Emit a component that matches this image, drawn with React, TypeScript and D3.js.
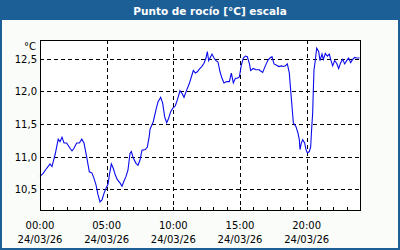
import React from "react";
import * as d3 from "d3";

const TITLE = "Punto de rocío [°C] escala";
const UNIT = "°C";
// minutes after 24/03/26 00:00
const minutes = [0, 15, 27, 36, 45, 54, 60, 69, 75, 82, 90, 99, 108, 120, 135, 144, 153, 165, 177, 188, 198, 210, 222, 234, 243, 252, 261, 270, 279, 288, 297, 306, 312, 321, 330, 339, 348, 360, 369, 378, 387, 396, 405, 411, 420, 432, 441, 450, 459, 474, 483, 492, 495, 510, 522, 531, 543, 552, 561, 570, 579, 588, 597, 609, 618, 630, 639, 648, 660, 672, 681, 690, 699, 708, 717, 728, 738, 747, 753, 759, 768, 774, 783, 792, 801, 810, 819, 828, 840, 852, 861, 870, 879, 888, 897, 906, 915, 924, 933, 942, 948, 960, 972, 987, 990, 1002, 1014, 1026, 1035, 1044, 1053, 1065, 1074, 1086, 1095, 1104, 1113, 1122, 1128, 1134, 1140, 1152, 1161, 1167, 1170, 1176, 1182, 1191, 1197, 1203, 1212, 1218, 1223, 1227, 1230, 1233, 1239, 1245, 1254, 1260, 1269, 1275, 1284, 1293, 1302, 1308, 1317, 1326, 1335, 1344, 1353, 1362, 1371, 1380, 1389, 1398, 1407, 1416, 1425, 1438];
const values = [10.70, 10.75, 10.81, 10.85, 10.89, 10.85, 10.93, 11.05, 11.15, 11.27, 11.23, 11.30, 11.21, 11.21, 11.13, 11.09, 11.13, 11.21, 11.21, 11.27, 11.21, 11.00, 10.77, 10.75, 10.67, 10.57, 10.42, 10.31, 10.34, 10.44, 10.52, 10.58, 10.72, 10.89, 10.82, 10.72, 10.65, 10.60, 10.55, 10.63, 10.70, 10.80, 11.05, 11.08, 10.98, 10.90, 10.87, 10.95, 11.10, 11.11, 11.15, 11.32, 11.42, 11.54, 11.72, 11.84, 11.91, 11.82, 11.61, 11.52, 11.59, 11.69, 11.74, 11.78, 11.87, 12.01, 11.97, 11.91, 12.02, 12.12, 12.22, 12.32, 12.28, 12.30, 12.34, 12.38, 12.43, 12.51, 12.61, 12.47, 12.53, 12.57, 12.51, 12.47, 12.45, 12.30, 12.20, 12.13, 12.15, 12.15, 12.28, 12.13, 12.20, 12.20, 12.22, 12.40, 12.51, 12.54, 12.53, 12.43, 12.32, 12.35, 12.33, 12.33, 12.32, 12.29, 12.39, 12.48, 12.51, 12.53, 12.42, 12.40, 12.38, 12.39, 12.38, 12.39, 12.42, 12.28, 12.02, 11.77, 11.52, 11.46, 11.36, 11.26, 11.11, 11.21, 11.26, 11.21, 11.11, 11.06, 11.08, 11.15, 11.46, 11.67, 12.02, 12.33, 12.48, 12.66, 12.61, 12.47, 12.57, 12.49, 12.58, 12.54, 12.57, 12.49, 12.39, 12.47, 12.43, 12.35, 12.44, 12.49, 12.42, 12.47, 12.51, 12.44, 12.49, 12.52, 12.51, 12.51];
const yTicks = [10.5, 11.0, 11.5, 12.0, 12.5];
const xMajorHours = [0, 5, 10, 15, 20];

const W = 400, H = 250;
const M = { left: 40, right: 360, top: 40, bottom: 210 };
const base = new Date(2026, 2, 24, 0, 0);
const toDate = (m: number) => new Date(base.getTime() + m * 60000);

export default function App() {
  const x = d3.scaleTime().domain([base, toDate(24 * 60)]).range([M.left, M.right]);
  const y = d3.scaleLinear().domain([10.186, 12.786]).range([M.bottom, M.top]);
  const data = minutes.map((m, i) => ({ t: toDate(m), v: values[i] }));
  const line = d3.line<{ t: Date; v: number }>().x(d => x(d.t)).y(d => y(d.v));
  const fmtY = (v: number) => d3.format(".1f")(v).replace(".", ",");
  const fmtT = d3.timeFormat("%H:%M");
  const fmtD = d3.timeFormat("%d/%m/%y");
  const hours = d3.range(0, 25);
  const font = "DejaVu Sans, Verdana, sans-serif";
  return (
    <svg width={W} height={H} style={{ position: "fixed", left: 0, top: 0 }} fontFamily={font}>
      <rect x={0} y={0} width={W} height={H} fill="#f9fcf9" />
      <rect x={1} y={1} width={W - 2} height={H - 2} fill="none" stroke="#1c5e96" strokeWidth={2} />
      <rect x={0} y={0} width={W} height={20} fill="#1c5e96" />
      <text x={210} y={14.5} textAnchor="middle" fill="#ffffff" fontWeight="bold" fontSize={10.5}>{TITLE}</text>
      <rect x={M.left} y={M.top} width={M.right - M.left} height={M.bottom - M.top} fill="#ffffff" />
      {yTicks.map(t => (
        <line key={"gy" + t} x1={M.left} x2={M.right} y1={Math.round(y(t)) + 0.5} y2={Math.round(y(t)) + 0.5} stroke="#000" strokeDasharray="4,3" />
      ))}
      {xMajorHours.filter(h => h > 0).map(h => (
        <line key={"gx" + h} x1={Math.round(x(toDate(h * 60))) + 0.5} x2={Math.round(x(toDate(h * 60))) + 0.5} y1={M.top} y2={M.bottom} stroke="#000" strokeDasharray="4,3" />
      ))}
      {hours.map(h => (
        <line key={"tk" + h} x1={Math.round(x(toDate(h * 60))) + 0.5} x2={Math.round(x(toDate(h * 60))) + 0.5} y1={M.bottom - 3} y2={M.bottom} stroke="#000" />
      ))}
      <path d={line(data) || ""} fill="none" stroke="#0a0aee" strokeWidth={1.1} />
      <rect x={M.left + 0.5} y={M.top + 0.5} width={M.right - M.left} height={M.bottom - M.top} fill="none" stroke="#000" strokeWidth={1} />
      <text x={36} y={49.5} textAnchor="end" fontSize={10} fill="#000">{UNIT}</text>
      {yTicks.map(t => (
        <text key={"ly" + t} x={37} y={y(t) + 4} textAnchor="end" fontSize={10} fill="#000">{fmtY(t)}</text>
      ))}
      {xMajorHours.map(h => {
        const d = toDate(h * 60);
        return (
          <g key={"lx" + h}>
            <text x={x(d)} y={229} textAnchor="middle" fontSize={10} fill="#000">{fmtT(d)}</text>
            <text x={x(d)} y={243} textAnchor="middle" fontSize={10} fill="#000">{fmtD(d)}</text>
          </g>
        );
      })}
    </svg>
  );
}
